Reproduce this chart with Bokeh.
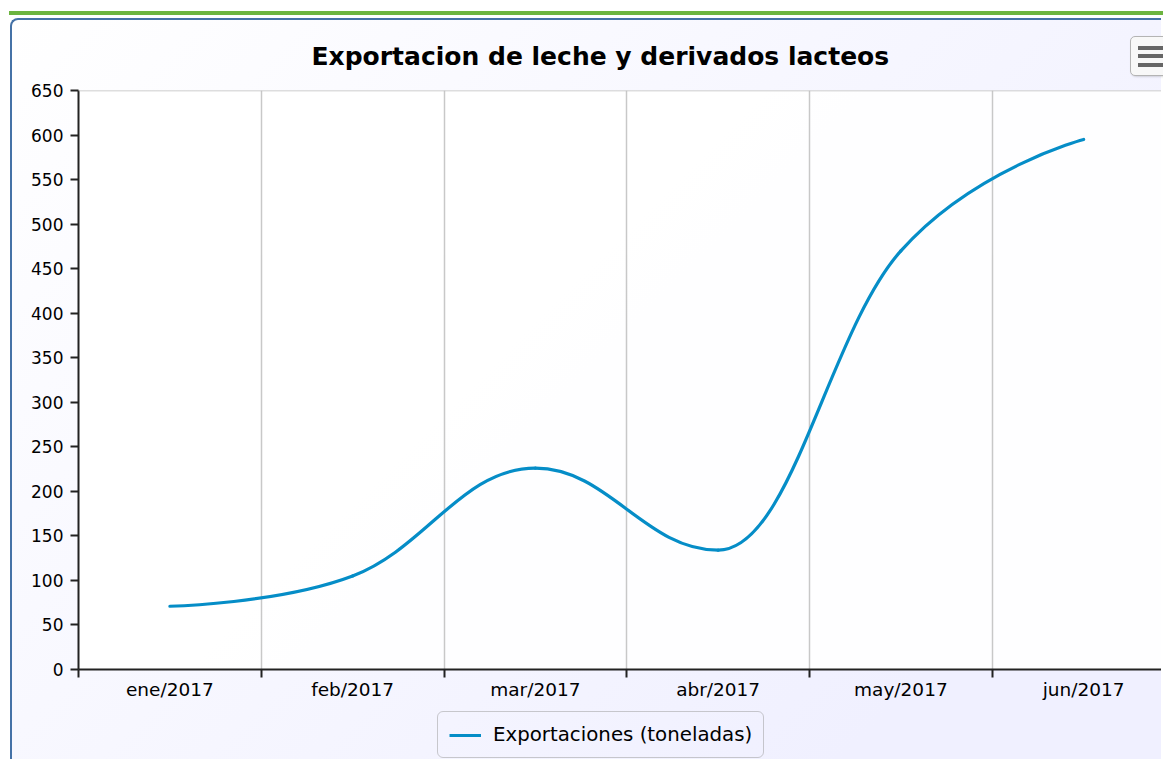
from bokeh.plotting import figure
from bokeh.models import (Range1d, FixedTicker, Legend, LegendItem, Span,
                          Div, Column, ColumnDataSource, InlineStyleSheet)
from bokeh.embed import file_html
from bokeh.resources import INLINE

# ---------------- data ----------------
title_text = "Exportacion de leche y derivados lacteos"
categories = ["ene/2017", "feb/2017", "mar/2017", "abr/2017", "may/2017", "jun/2017"]
exports = [71, 105, 226, 134, 470, 595]
series_name = "Exportaciones (toneladas)"
y_ticks = list(range(0, 651, 50))

FONT = "DejaVu Sans"
LINE_COLOR = "#058DC7"
BG = "linear-gradient(135deg, #ffffff 0px, #f0f0ff 1131px) fixed"


def spline_segments(xs, ys, smoothing=1.5):
    """Highcharts-style spline control points."""
    n = len(xs)
    denom = smoothing + 1
    lcx, lcy, rcx, rcy = list(xs), list(ys), list(xs), list(ys)
    for i in range(1, n - 1):
        px, py = xs[i], ys[i]
        lx, ly = xs[i - 1], ys[i - 1]
        nx, ny = xs[i + 1], ys[i + 1]
        a = (smoothing * px + lx) / denom
        b = (smoothing * py + ly) / denom
        c = (smoothing * px + nx) / denom
        d = (smoothing * py + ny) / denom
        if c != a:
            corr = ((d - b) * (c - px)) / (c - a) + py - d
            b += corr
            d += corr
        if b > ly and b > py:
            b = max(ly, py); d = 2 * py - b
        elif b < ly and b < py:
            b = min(ly, py); d = 2 * py - b
        if d > ny and d > py:
            d = max(ny, py); b = 2 * py - d
        elif d < ny and d < py:
            d = min(ny, py); b = 2 * py - d
        lcx[i], lcy[i], rcx[i], rcy[i] = a, b, c, d
    return dict(x0=xs[:-1], y0=ys[:-1], x1=xs[1:], y1=ys[1:],
                cx0=rcx[:-1], cy0=rcy[:-1], cx1=lcx[1:], cy1=lcy[1:])


xs = list(range(len(categories)))
src = ColumnDataSource(spline_segments(xs, exports))

# ---------------- main figure ----------------
W, H = 1151, 689
ML, MT, MB = 66, 70, 40
cat_px = 182.75
x_end = -0.5 + (W - ML) / cat_px

menu_css = InlineStyleSheet(css="""
:host::after {
  content: "";
  position: absolute;
  left: 1118px; top: 16px; width: 44px; height: 40px;
  border: 1px solid #b4b4b4; border-radius: 5px;
  box-shadow: 1px 1px 2px rgba(0,0,0,0.15);
  background:
    linear-gradient(#666,#666) 7px 9px / 30px 4px no-repeat,
    linear-gradient(#666,#666) 7px 17px / 30px 4px no-repeat,
    linear-gradient(#666,#666) 7px 26px / 30px 4px no-repeat,
    #f8f8f8;
}
""")

p = figure(width=W, height=H, x_range=Range1d(-0.5, x_end), y_range=Range1d(y_ticks[0], y_ticks[-1]),
           output_backend="svg", toolbar_location=None,
           min_border_left=ML, min_border_right=0, min_border_top=MT, min_border_bottom=MB,
           margin=(3, 0, 0, 10),
           styles={"border-top": "2px solid #4572A7", "border-left": "2px solid #4572A7",
                   "border-top-left-radius": "8px", "background": BG},
           stylesheets=[menu_css])
p.border_fill_alpha = 0
p.background_fill_color = "white"
p.background_fill_alpha = 0.9
p.outline_line_color = None

# title
p.title.text = title_text
p.title.align = "left"
p.title.offset = 233
p.title.standoff = 39
p.title.text_font = FONT
p.title.text_font_style = "bold"
p.title.text_font_size = "25px"
p.title.text_color = "#000000"

r = p.bezier(x0="x0", y0="y0", x1="x1", y1="y1", cx0="cx0", cy0="cy0", cx1="cx1", cy1="cy1",
             source=src, line_color=LINE_COLOR, line_width=3.2, line_cap="round")

# x axis
boundaries = [i - 0.5 for i in range(len(categories) + 1)]
xa = p.xaxis[0]
xa.ticker = FixedTicker(ticks=xs, minor_ticks=boundaries)
xa.major_label_overrides = {i: c for i, c in enumerate(categories)}
xa.major_tick_out = 0
xa.major_tick_in = 0
xa.minor_tick_out = 8
xa.minor_tick_in = 0
xa.minor_tick_line_color = "#222222"
xa.minor_tick_line_width = 2
xa.axis_line_color = "#222222"
xa.axis_line_width = 2
xa.major_label_standoff = 1
xa.major_label_text_font = FONT
xa.major_label_text_font_size = "18.5px"
xa.major_label_text_color = "#000000"

ya = p.yaxis[0]
ya.ticker = FixedTicker(ticks=y_ticks)
ya.major_tick_out = 8
ya.major_tick_in = 0
ya.minor_tick_out = 0
ya.minor_tick_in = 0
ya.major_tick_line_color = "#222222"
ya.major_tick_line_width = 2
ya.axis_line_color = "#222222"
ya.axis_line_width = 2
ya.major_label_standoff = 7
ya.major_label_text_font = FONT
ya.major_label_text_font_size = "17px"
ya.major_label_text_color = "#000000"

p.ygrid.grid_line_color = None
p.xgrid.ticker = FixedTicker(ticks=boundaries[1:-1])
p.xgrid.grid_line_color = "#c8c8c8"
p.xgrid.grid_line_width = 1.5

# top plot border
p.add_layout(Span(location=y_ticks[-1], dimension="width", line_color="#bdbdbd", line_width=1.5))

# ---------------- legend strip ----------------
q = figure(width=W, height=52, x_range=Range1d(0, 1), y_range=Range1d(0, 1),
           output_backend="svg", toolbar_location=None, title=None,
           x_axis_location=None, y_axis_location=None,
           min_border_left=0, min_border_right=0, min_border_top=0, min_border_bottom=0,
           margin=(0, 0, 0, 10),
           styles={"border-left": "2px solid #4572A7", "background": BG})
q.border_fill_alpha = 0
q.background_fill_alpha = 0
q.outline_line_color = None
q.grid.visible = False
nan = float("nan")
proxy = q.line(x=[nan, nan], y=[nan, nan], line_color=LINE_COLOR, line_width=3.2)

legend = Legend(items=[LegendItem(label=series_name, renderers=[proxy])],
                location=(359, 1), orientation="horizontal",
                border_line_color="#9a9a9a", border_line_width=1.5, border_radius=6,
                background_fill_alpha=0, padding=11, label_standoff=12,
                glyph_width=32, margin=0,
                label_text_font=FONT, label_text_font_size="19.8px",
                label_text_color="#000000")
q.add_layout(legend)

green = Div(text="", width=1154, height=4, margin=(11, 0, 0, 9),
            styles={"background-color": "#6cb43f"})

layout = Column(children=[green, p, q], spacing=0)

open("out.html", "w").write(file_html(layout, INLINE))
